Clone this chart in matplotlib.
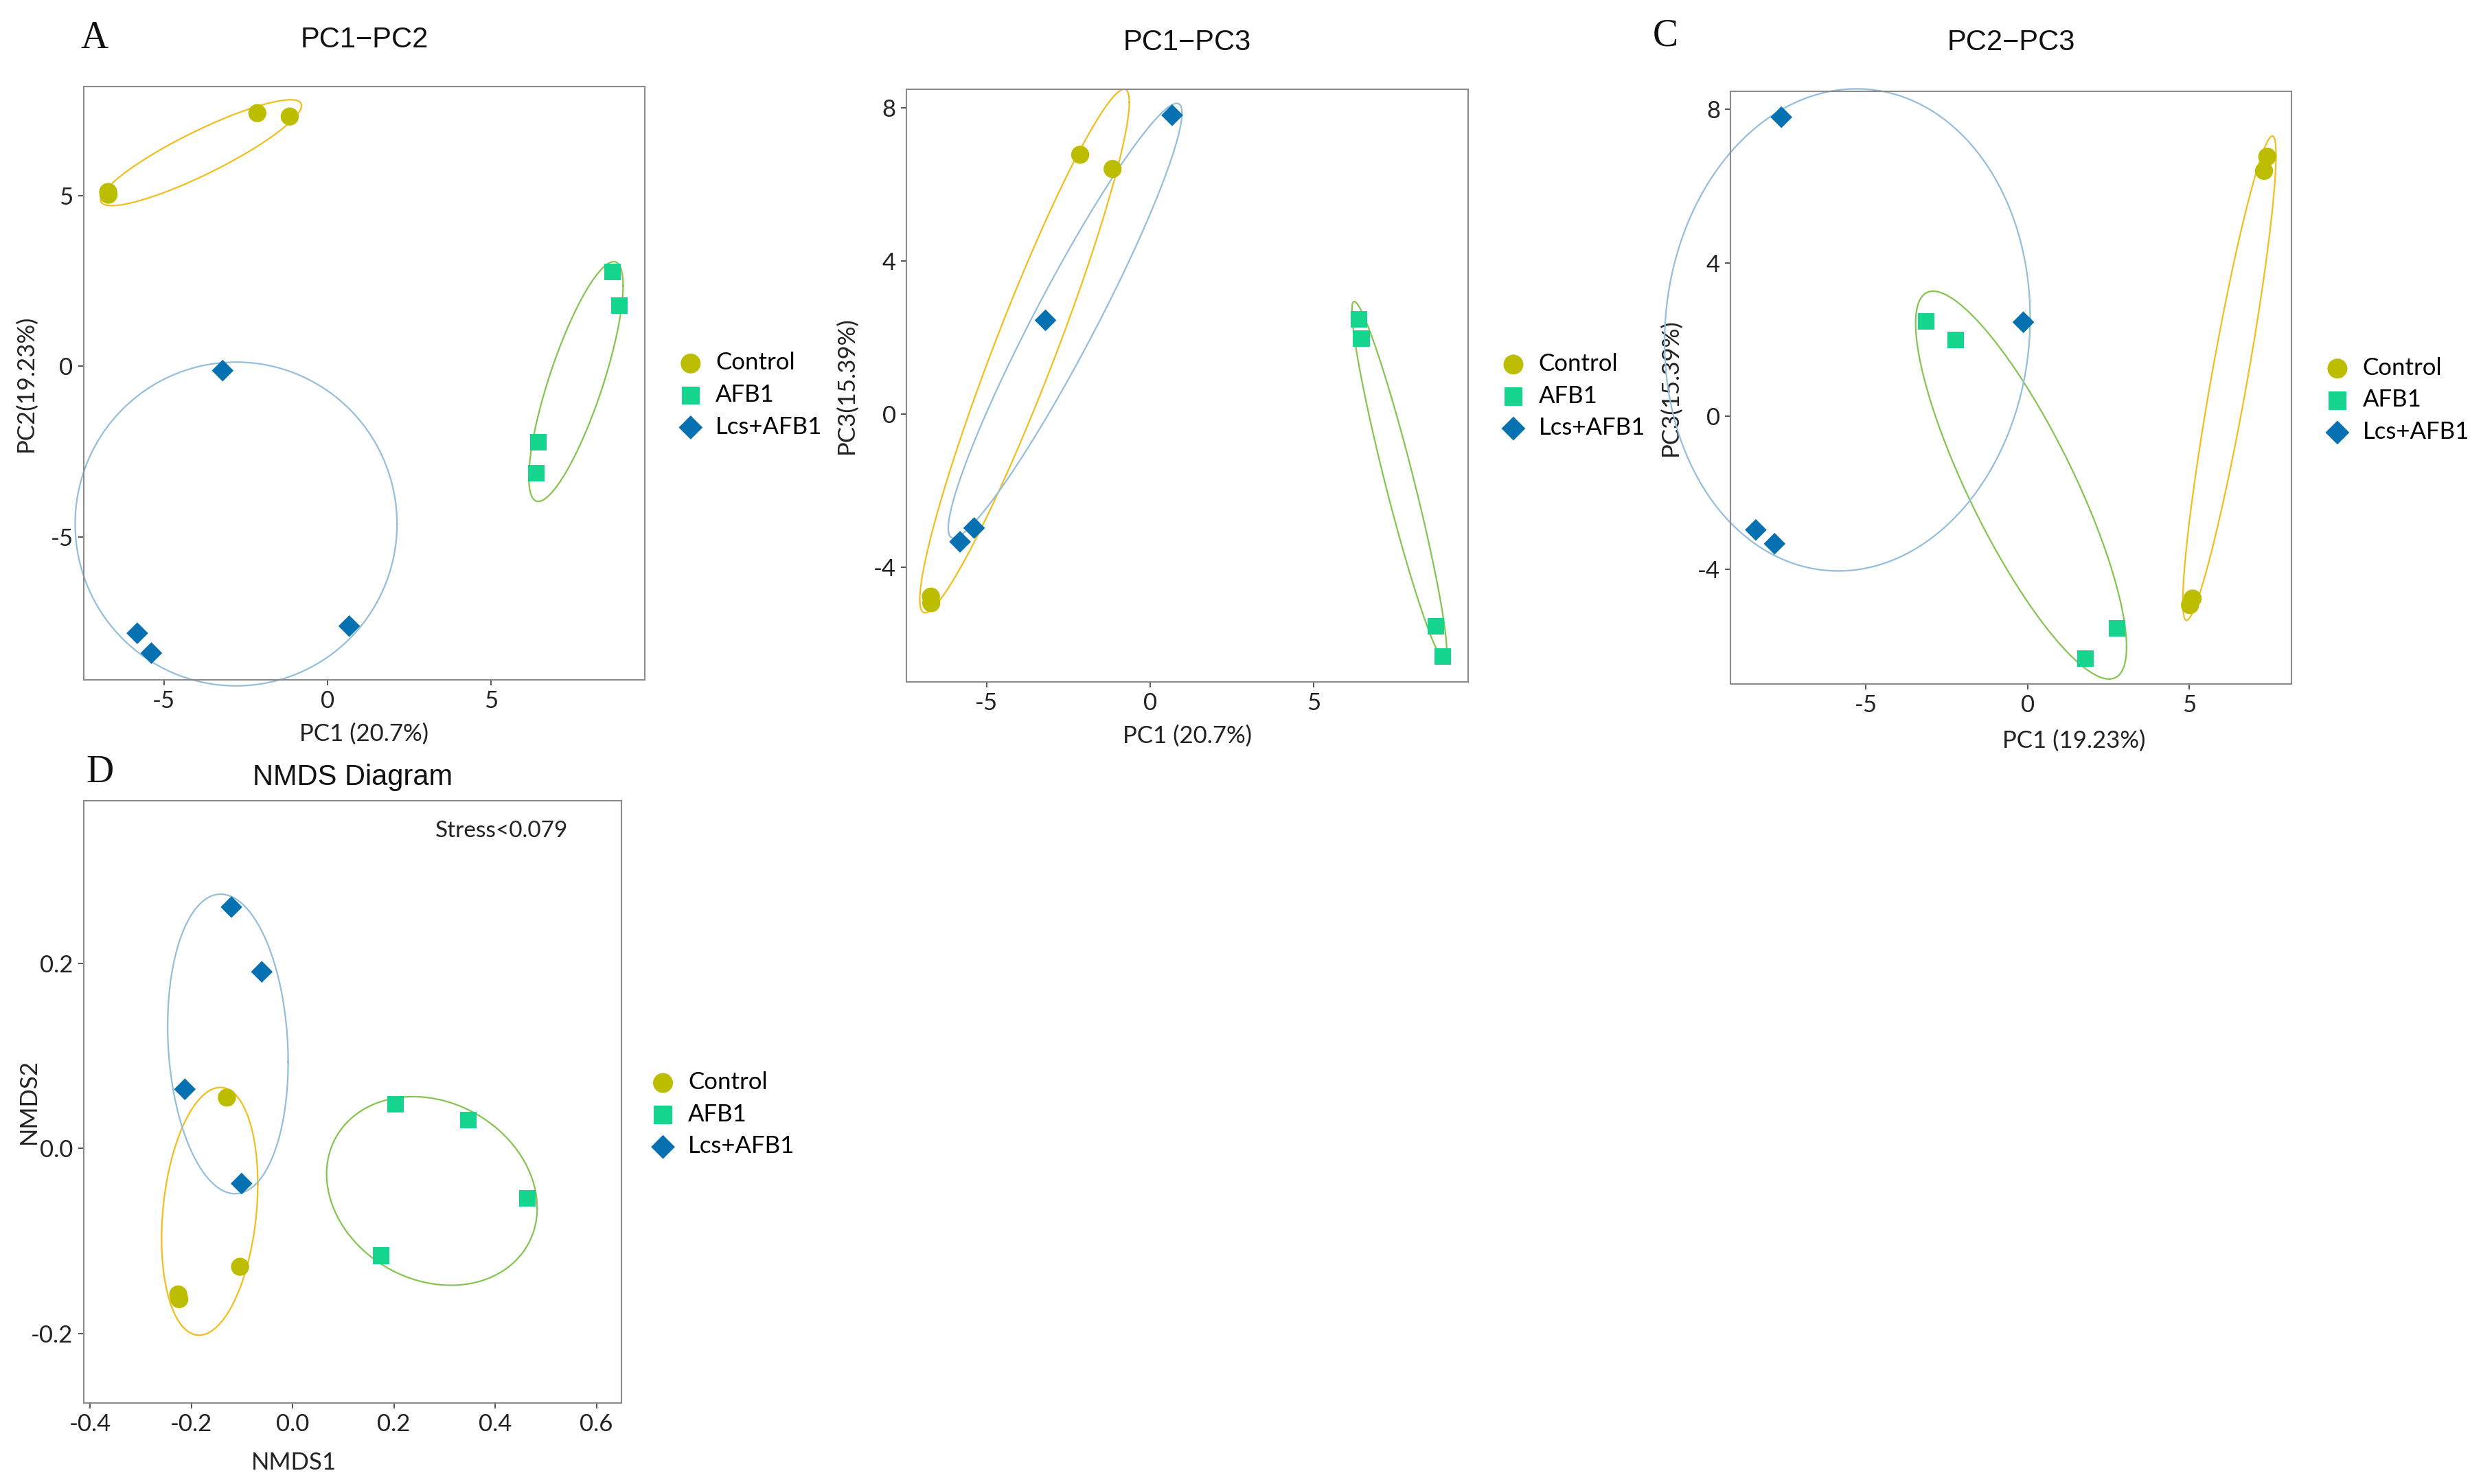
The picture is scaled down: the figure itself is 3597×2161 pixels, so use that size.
import numpy as np
import matplotlib
matplotlib.use('Agg')
import matplotlib.pyplot as plt

plt.rcParams['font.family'] = ['Lato', 'DejaVu Sans']
plt.rcParams['axes.unicode_minus'] = False

groups = ['Control', 'AFB1', 'Lcs+AFB1']
pt_colors = ['#BDBD00', '#14D48E', '#0571B0']
el_colors = ['#F2BE1E', '#86C452', '#94BEDB']
markers = ['o', 's', 'D']
msizes = [360, 300, 260]

# PCA scores per sample
ctrl_pc1 = [-6.70, -6.69, -2.14, -1.15]
ctrl_pc2 = [5.10, 5.02, 7.41, 7.31]
ctrl_pc3 = [-4.76, -4.93, 6.77, 6.40]

afb_pc1 = [8.72, 8.93, 6.45, 6.38]
afb_pc2 = [2.76, 1.78, -2.23, -3.14]
afb_pc3 = [-5.54, -6.32, 1.98, 2.47]

lcs_pc1 = [-3.20, -5.81, -5.38, 0.67]
lcs_pc2 = [-0.13, -7.82, -8.40, -7.61]
lcs_pc3 = [2.45, -3.33, -2.97, 7.80]

# NMDS scores
ctrl_nmds1 = [-0.130, -0.104, -0.226, -0.224]
ctrl_nmds2 = [0.055, -0.128, -0.158, -0.163]
afb_nmds1 = [0.203, 0.347, 0.463, 0.175]
afb_nmds2 = [0.048, 0.031, -0.054, -0.116]
lcs_nmds1 = [-0.121, -0.061, -0.213, -0.101]
lcs_nmds2 = [0.261, 0.191, 0.064, -0.038]

# ellipses: centre x, centre y, half-width x, half-height y, correlation
ell_A = [(-3.86, 6.25, 3.07, 1.55, 0.89), (7.60, -0.45, 1.44, 3.51, 0.80), (-2.79, -4.62, 4.92, 4.74, 0.0)]
ell_B = [(-3.84, 1.65, 3.20, 6.83, 0.95), (7.61, -1.74, 1.45, 4.68, -0.95), (-2.60, 2.44, 3.57, 5.67, 0.955)]
ell_C = [(6.24, 0.99, 1.44, 6.32, 0.92), (-0.20, -1.80, 3.26, 5.06, -0.834), (-5.57, 2.25, 5.65, 6.29, 0.05)]
ell_D = [(-0.164, -0.068, 0.095, 0.134, 0.22), (0.275, -0.046, 0.208, 0.102, -0.18), (-0.128, 0.113, 0.119, 0.162, -0.12)]

fig = plt.figure(figsize=(35.97, 21.61), dpi=100)
fig.patch.set_facecolor('white')

t = np.linspace(0, 2 * np.pi, 300)


def panel(rect, xs, ys, ells, xlim, ylim, xticks, yticks, title, title_y, xlabel, ylabel,
          xlab_pos, ylab_x, leg_pos, fmt=None):
    ax = fig.add_axes(rect)
    for i in range(3):
        cx, cy, sx, sy, r = ells[i]
        ex = cx + sx * np.cos(t)
        ey = cy + sy * (r * np.cos(t) + np.sqrt(1 - r * r) * np.sin(t))
        ax.plot(ex, ey, color=el_colors[i], lw=1.6, clip_on=False, zorder=2)
    for i in range(3):
        ax.scatter(xs[i], ys[i], s=msizes[i], marker=markers[i], color=pt_colors[i],
                   edgecolors='none', label=groups[i], zorder=3)
    ax.set_xlim(xlim)
    ax.set_ylim(ylim)
    ax.set_xticks(xticks)
    ax.set_yticks(yticks)
    if fmt:
        ax.set_xticklabels([fmt.format(v) for v in xticks])
        ax.set_yticklabels([fmt.format(v) for v in yticks])
    else:
        ax.set_xticklabels([str(v) for v in xticks])
        ax.set_yticklabels([str(v) for v in yticks])
    for s in ax.spines.values():
        s.set_color('#8A8A8A')
        s.set_linewidth(1.5)
    ax.tick_params(length=6, width=1.3, color='#444444', labelsize=25, labelcolor='#222222', pad=5)
    ax.text(0.5, title_y, title, transform=ax.transAxes, ha='center', va='center',
            fontsize=30, family='Liberation Sans', color='#111111')
    ax.set_xlabel(xlabel, fontsize=25, color='#222222')
    ax.set_ylabel(ylabel, fontsize=25, color='#222222')
    ax.xaxis.set_label_coords(xlab_pos[0], xlab_pos[1])
    ax.yaxis.set_label_coords(ylab_x, 0.5)
    ax.legend(loc='center left', bbox_to_anchor=leg_pos, bbox_transform=fig.transFigure,
              frameon=False, fontsize=25, handlelength=1.0, handletextpad=0.55,
              labelspacing=0.42, borderpad=0, borderaxespad=0, markerscale=1.1)
    return ax


axA = panel([0.03386, 0.54197, 0.22727, 0.39954],
            [ctrl_pc1, afb_pc1, lcs_pc1], [ctrl_pc2, afb_pc2, lcs_pc2], ell_A,
            (-7.45, 9.71), (-9.18, 8.18), [-5, 0, 5], [-5, 0, 5],
            'PC1\u2212PC2', 1.079, 'PC1 (20.7%)', 'PC2(19.23%)',
            (0.5, -0.073), -0.083, (0.2748, 0.7339))

axB = panel([0.36695, 0.54063, 0.22741, 0.39926],
            [ctrl_pc1, afb_pc1, lcs_pc1], [ctrl_pc3, afb_pc3, lcs_pc3], ell_B,
            (-7.45, 9.71), (-6.98, 8.48), [-5, 0, 5], [-4, 0, 4, 8],
            'PC1\u2212PC3', 1.079, 'PC1 (20.7%)', 'PC3(15.39%)',
            (0.5, -0.073), -0.087, (0.6079, 0.7332))

axC = panel([0.70064, 0.53933, 0.22711, 0.39926],
            [ctrl_pc2, afb_pc2, lcs_pc2], [ctrl_pc3, afb_pc3, lcs_pc3], ell_C,
            (-9.18, 8.16), (-6.98, 8.48), [-5, 0, 5], [-4, 0, 4, 8],
            'PC2\u2212PC3', 1.082, 'PC1 (19.23%)', 'PC3(15.39%)',
            (0.612, -0.078), -0.087, (0.9415, 0.7305))

axD = panel([0.03386, 0.05479, 0.21785, 0.40560],
            [ctrl_nmds1, afb_nmds1, lcs_nmds1], [ctrl_nmds2, afb_nmds2, lcs_nmds2], ell_D,
            (-0.413, 0.650), (-0.275, 0.376), [-0.4, -0.2, 0.0, 0.2, 0.4, 0.6], [-0.2, 0.0, 0.2],
            'NMDS Diagram', 1.039, 'NMDS1', 'NMDS2',
            (0.391, -0.0815), -0.081, (0.2636, 0.2491), fmt='{:.1f}')
axD.text(0.777, 0.9496, 'Stress<0.079', transform=axD.transAxes, ha='center', va='center',
         fontsize=24, color='#222222')

for letter, x, y in [('A', 0.0383, 0.9741), ('C', 0.6743, 0.9757), ('D', 0.0404, 0.4795)]:
    fig.text(x, y, letter, ha='center', va='center', fontsize=40,
             family='Liberation Serif', color='#111111')

fig.savefig('out.png', dpi=100)
